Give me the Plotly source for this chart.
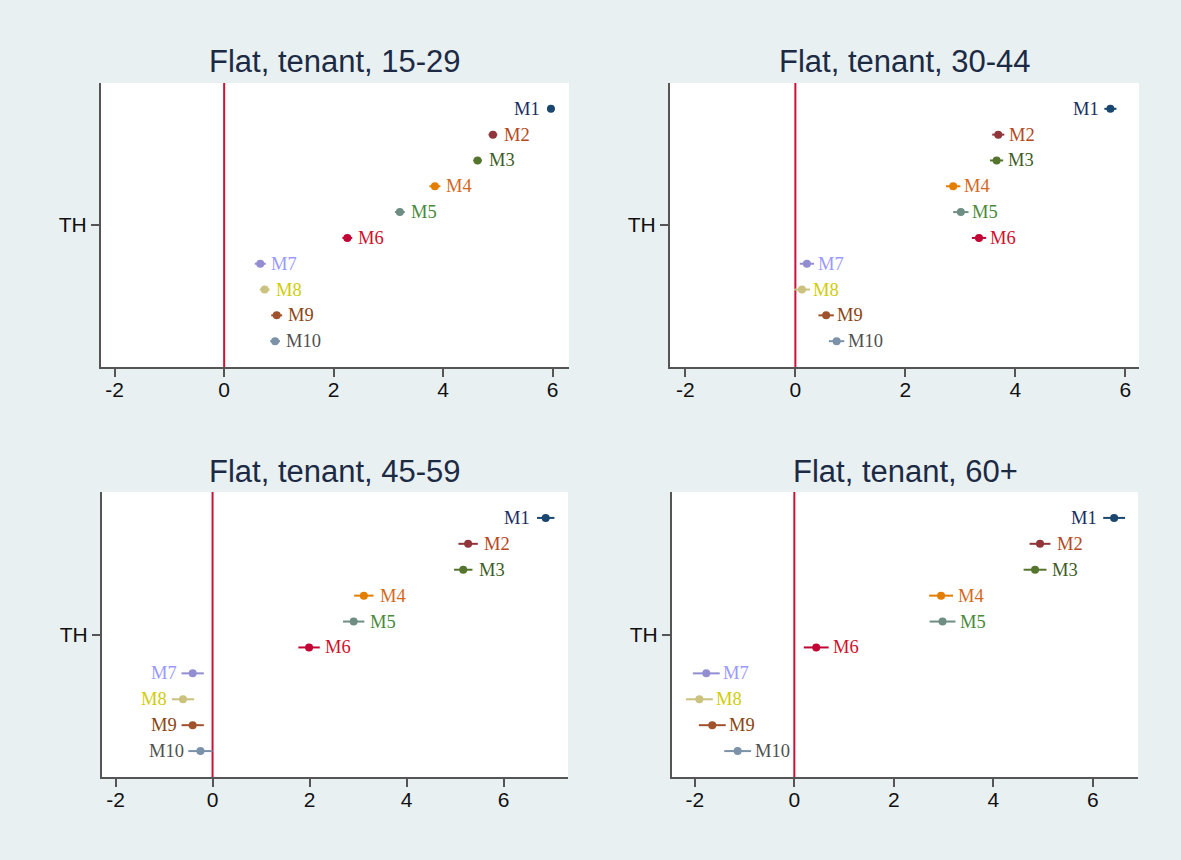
import plotly.graph_objects as go

# Coefficient estimates (TH) by model, one list per age group
models = ["M1", "M2", "M3", "M4", "M5", "M6", "M7", "M8", "M9", "M10"]
tick_values = [-2, 0, 2, 4, 6]
tick_text = ["-2", "0", "2", "4", "6"]

coef_15_29 = [5.97, 4.91, 4.63, 3.85, 3.21, 2.25, 0.66, 0.74, 0.96, 0.93]
ci_15_29 = [0.06, 0.08, 0.08, 0.10, 0.09, 0.09, 0.10, 0.09, 0.10, 0.09]

coef_30_44 = [5.73, 3.69, 3.66, 2.87, 3.01, 3.34, 0.21, 0.12, 0.56, 0.75]
ci_30_44 = [0.11, 0.11, 0.12, 0.13, 0.14, 0.13, 0.13, 0.145, 0.14, 0.14]

coef_45_59 = [6.87, 5.27, 5.17, 3.12, 2.91, 1.99, -0.41, -0.61, -0.41, -0.25]
ci_45_59 = [0.18, 0.20, 0.19, 0.20, 0.22, 0.22, 0.23, 0.23, 0.23, 0.25]

coef_60p = [6.43, 4.94, 4.84, 2.95, 2.98, 0.44, -1.77, -1.91, -1.65, -1.14]
ci_60p = [0.22, 0.21, 0.23, 0.24, 0.26, 0.25, 0.27, 0.27, 0.27, 0.27]

titles = ["Flat, tenant, 15-29", "Flat, tenant, 30-44",
          "Flat, tenant, 45-59", "Flat, tenant, 60+"]

marker_colors = ["#1a476f", "#90353b", "#55752f", "#e37e00", "#6e8e84",
                 "#c10534", "#938dd2", "#cac27e", "#a0522d", "#7b92a8"]
label_colors = ["#182c62", "#b5481d", "#3d5c26", "#d2691e", "#4a8a3c",
                "#d0102a", "#9999ff", "#cfcc0a", "#8b4513", "#505050"]

# which labels sit to the left of their marker, per panel
left_labels = [{"M1"}, {"M1"}, {"M1", "M7", "M8", "M9", "M10"}, {"M1"}]
label_gap = [9, 9, 14, 15]

W, H = 1181, 860
# plot-area boxes in pixels: (left, right, top, bottom)
boxes = [(101, 569, 83, 367), (670, 1139, 83, 367),
         (102, 568, 492, 777), (672, 1138, 492, 777)]
x_ranges = [[-2.25, 6.30], [-2.28, 6.25], [-2.28, 7.33], [-2.46, 6.91]]

panels = [(coef_15_29, ci_15_29), (coef_30_44, ci_30_44),
          (coef_45_59, ci_45_59), (coef_60p, ci_60p)]

fig = go.Figure()
rows = list(range(1, len(models) + 1))

axis_line = "#555555"
tick_font = dict(family="Liberation Sans", size=21, color="#111111")
for p, ((coef, ci), box) in enumerate(zip(panels, boxes)):
    sfx = "" if p == 0 else str(p + 1)
    xa, ya = "x" + sfx, "y" + sfx
    l, r, t, b = box

    for i, m in enumerate(models):
        fig.add_trace(go.Scatter(
            x=[coef[i]], y=[rows[i]], mode="markers",
            marker=dict(size=8, color=marker_colors[i]),
            error_x=dict(type="data", array=[ci[i]], color=marker_colors[i],
                         thickness=2, width=0),
            xaxis=xa, yaxis=ya, showlegend=False, hoverinfo="skip"))
        left = m in left_labels[p]
        fig.add_annotation(
            x=coef[i], y=rows[i], xref=xa, yref=ya, text=m, showarrow=False,
            xanchor="right" if left else "left",
            xshift=-label_gap[p] if left else label_gap[p],
            font=dict(family="Liberation Serif", size=18.5, color=label_colors[i]))

    # reference line at zero
    fig.add_shape(type="line", xref=xa, yref=ya + " domain", x0=0, x1=0, y0=0, y1=1,
                  line=dict(color="#cc1036", width=2), layer="below")

    fig.layout["xaxis" + sfx] = dict(
        domain=[l / W, r / W], range=x_ranges[p], anchor=ya,
        tickvals=tick_values, ticktext=tick_text, ticks="outside", ticklen=8,
        tickwidth=1.5, tickcolor=axis_line, showline=True, linecolor=axis_line,
        linewidth=2, showgrid=False, zeroline=False, ticklabelstandoff=-5,
        tickfont=tick_font)
    fig.layout["yaxis" + sfx] = dict(
        domain=[1 - b / H, 1 - t / H], range=[11, 0], anchor=xa,
        tickvals=[5.5], ticktext=["TH"], ticks="outside", ticklen=8, tickwidth=1.5,
        tickcolor=axis_line, showline=True, linecolor=axis_line, linewidth=2,
        showgrid=False, zeroline=False, tickfont=tick_font)

    fig.add_annotation(
        x=(l + r) / 2 / W, y=1 - (t - 21) / H, xref="paper", yref="paper",
        text=titles[p], showarrow=False, xanchor="center", yanchor="middle",
        font=dict(family="Liberation Sans", size=31, color="#1c2a44"))

fig.update_layout(
    width=W, height=H, margin=dict(l=0, r=0, t=0, b=0),
    paper_bgcolor="#e8f0f2", plot_bgcolor="#ffffff")

fig.write_html("out.html")
